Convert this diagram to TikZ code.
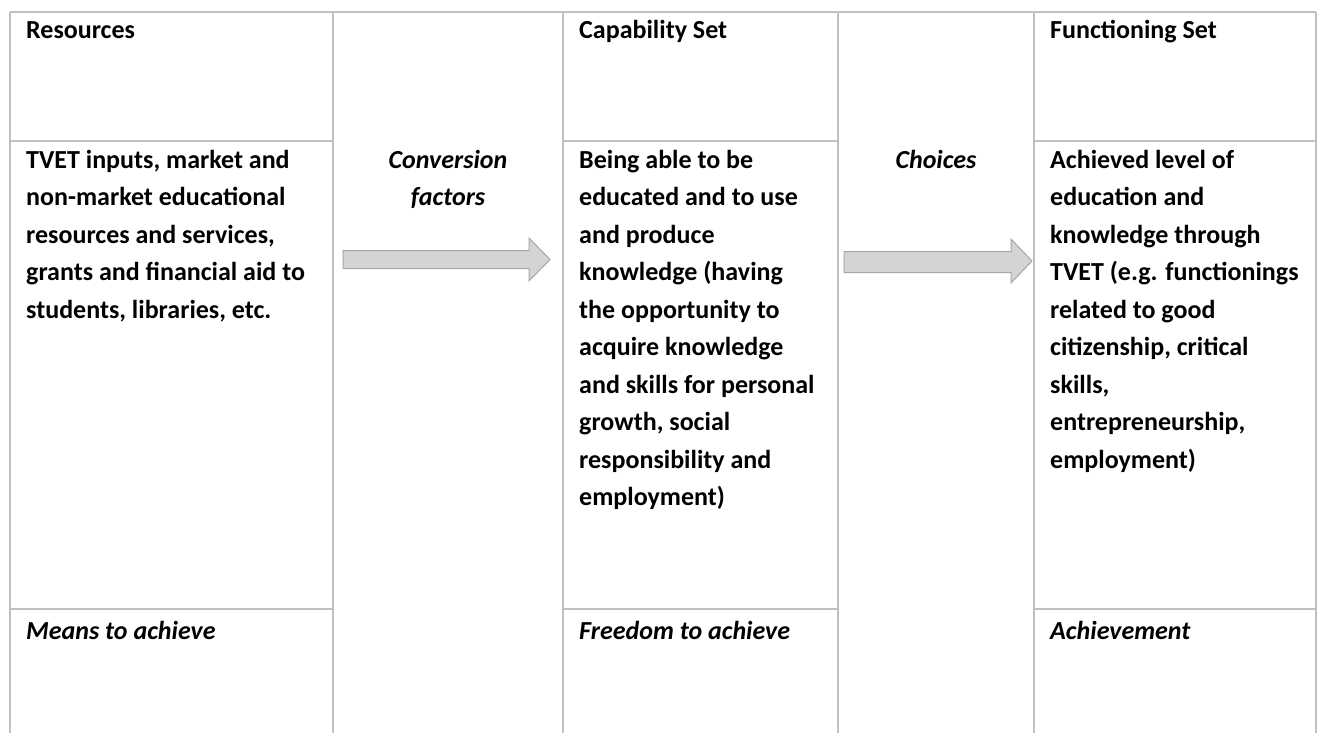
\documentclass[tikz,border=0pt]{standalone}
\usepackage{fontspec}
\setmainfont{Carlito}
\definecolor{rule}{HTML}{BFBFBF}
\definecolor{arrowfill}{HTML}{D4D4D4}
\definecolor{arrowline}{HTML}{A6A6A6}
% multi-line nodes are anchored at the baseline of their last line
\tikzset{
  celltext/.style={anchor=base west, inner sep=0, align=left,
    font=\fontsize{26}{37.5}\selectfont\bfseries},
  grid/.style={draw=rule, line width=1.5pt},
  midtext/.style={anchor=base, inner sep=0, align=center,
    font=\fontsize{26}{37.5}\selectfont\bfseries\itshape},
  headtext/.style={anchor=base west, inner sep=0,
    font=\fontsize{26}{31}\selectfont\bfseries},
  foottext/.style={anchor=base west, inner sep=0,
    font=\fontsize{26}{31}\selectfont\bfseries\itshape},
  blockarrow/.style={fill=arrowfill, draw=arrowline, line width=1pt, line join=miter}
}
\begin{document}
\begin{tikzpicture}[x=1pt, y=-1pt]
\useasboundingbox (0,0) rectangle (1322,733);

% table rules
\draw[grid] (10,12) -- (1316,12);
\foreach \cx in {10,333,563,838,1034,1316}
  \draw[grid] (\cx,12) -- (\cx,733);
\foreach \ry in {141,609} {
  \draw[grid] (10,\ry) -- (333,\ry);
  \draw[grid] (563,\ry) -- (838,\ry);
  \draw[grid] (1034,\ry) -- (1316,\ry);
}

% header row
\node[headtext] (hres) at (26,39) {Resources};
\node[headtext] (hcap) at (579,39) {Capability Set};
\node[headtext] (hfun) at (1050,39) {Functioning Set};

% body row (first baseline at y = 168, lines 37.5 apart)
\node[celltext] (bres) at (26,318) {TVET inputs, market and\\non-market educational\\resources and services,\\grants and financial aid to\\students, libraries, etc.};
\node[midtext] (conv) at (448,205.5) {Conversion\\factors};
\node[celltext] (bcap) at (579,505.5) {Being able to be\\educated and to use\\and produce\\knowledge (having\\the opportunity to\\acquire knowledge\\and skills for personal\\growth, social\\responsibility and\\employment)};
\node[midtext] (choi) at (936,168) {Choices};
\node[celltext] (bfun) at (1050,468) {Achieved level of\\education and\\knowledge through\\TVET (e.g. functionings\\related to good\\citizenship, critical\\skills,\\entrepreneurship,\\employment)};

% footer row
\node[foottext] (fres) at (26,639) {Means to achieve};
\node[foottext] (fcap) at (579,639) {Freedom to achieve};
\node[foottext] (ffun) at (1050,639) {Achievement};

% block arrows
\draw[blockarrow] (343,250.5) -- (529,250.5) -- (529,238) -- (550,259.5)
  -- (529,281) -- (529,268.5) -- (343,268.5) -- cycle;
\draw[blockarrow] (844,251.5) -- (1011,251.5) -- (1011,239) -- (1032,261)
  -- (1011,283) -- (1011,272.5) -- (844,272.5) -- cycle;
\end{tikzpicture}
\end{document}
